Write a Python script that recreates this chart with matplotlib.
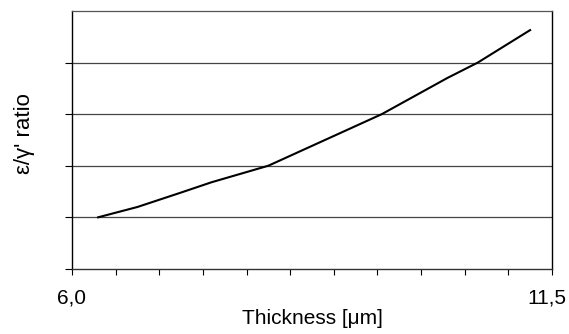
import numpy as np
import matplotlib
matplotlib.use("Agg")
import matplotlib.pyplot as plt
import matplotlib.transforms as mtransforms

# values
thickness = [6.3, 6.75, 7.25, 7.6, 8.25, 8.9, 9.55, 10.3, 10.65, 11.25]
ratio = [1.0, 1.2, 1.48, 1.68, 2.0, 2.5, 3.0, 3.7, 4.0, 4.63]
grid_levels = [1, 2, 3, 4]
x_labels = ["6,0", "11,5"]

plt.rcParams['font.family'] = ['Liberation Sans', 'DejaVu Sans']


def main():
    fig = plt.figure(figsize=(5.69, 3.34), dpi=100)
    ax = fig.add_axes([0.1265, 0.195, 0.8435, 0.772])

    ax.plot(thickness, ratio, color="black", lw=1.5)

    ax.set_xlim(6.0, 11.5)
    ax.set_ylim(0, 5)

    # major ticks carry the two labels, minor every 0.5
    ax.set_xticks([6.0, 11.5])
    ax.set_xticklabels(x_labels, fontsize=15)
    ax.set_xticks(np.arange(6.5, 11.5, 0.5), minor=True)
    ax.tick_params(axis="x", which="both", direction="out", length=4,
                   width=0.8, pad=10)
    # last label sits a bit left so it stays inside the picture
    last = ax.get_xticklabels()[-1]
    last.set_transform(last.get_transform() +
                       mtransforms.ScaledTranslation(-0.05, 0, fig.dpi_scale_trans))

    ax.set_yticks([0] + grid_levels)
    ax.set_yticklabels([])
    ax.tick_params(axis="y", direction="out", length=5, width=0.8)

    for lv in grid_levels:
        ax.axhline(lv, color="#444444", lw=0.9, zorder=0)

    for side in ["left", "right"]:
        ax.spines[side].set_color("black")
        ax.spines[side].set_linewidth(1.0)
    ax.spines["top"].set_color("#555555")
    ax.spines["top"].set_linewidth(0.9)
    ax.spines["bottom"].set_color("#333333")
    ax.spines["bottom"].set_linewidth(1.0)

    ax.set_xlabel("Thickness [\u03bcm]", fontsize=15, labelpad=1)
    ax.set_ylabel("\u03b5/\u03b3' ratio", fontsize=16)
    ax.yaxis.set_label_coords(-0.077, 0.523)

    fig.savefig("out.png", dpi=100)


if __name__ == '__main__':
    main()
